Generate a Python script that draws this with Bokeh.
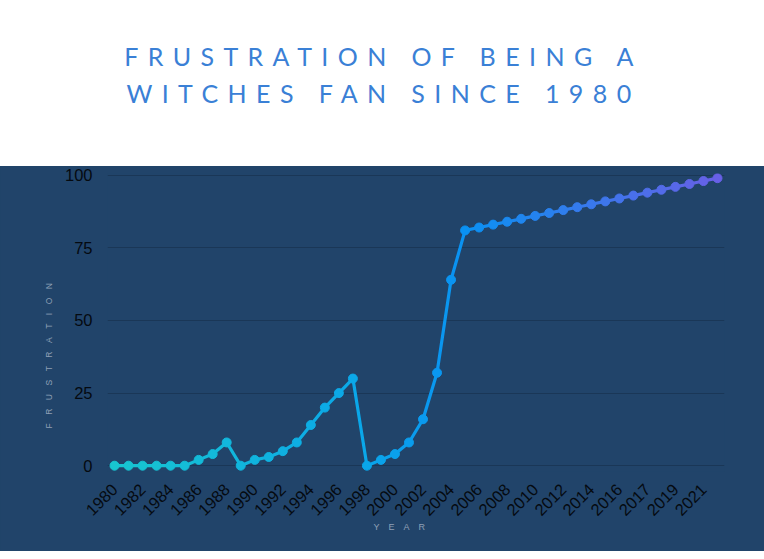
import math
from bokeh.plotting import figure
from bokeh.models import (ColumnDataSource, Range1d, FixedTicker, Div, Title)
from bokeh.layouts import column
from bokeh.embed import file_html
from bokeh.resources import INLINE

# ---- data ----
year_labels = [str(y) for y in range(1980, 2017)] + ["2016", "2017", "2018", "2019", "2020", "2021", "2022"]
frustration = [0, 0, 0, 0, 0, 0, 2, 4, 8, 0,
               2, 3, 5, 8, 14, 20, 25, 30, 0, 2,
               4, 8, 16, 32, 64, 81, 82, 83, 84, 85,
               86, 87, 88, 89, 90, 91, 92, 93, 94, 95,
               96, 97, 98, 99]
y_ticks = [0, 25, 50, 75, 100]
title_lines = ["FRUSTRATION OF BEING A", "WITCHES FAN SINCE 1980"]
x_title = "\u2003".join("YEAR")
y_title = "\u2003".join("FRUSTRATION")

# ---- styling helpers ----
BG = "#21446a"
GRID = "#1a3757"
stops = [(0, (24, 197, 208)), (18, (10, 166, 234)), (25, (10, 145, 242)), (43, (104, 96, 230))]

def grad(t):
    for (a, ca), (b, cb) in zip(stops[:-1], stops[1:]):
        if t <= b:
            f = (t - a) / (b - a) if b > a else 0
            c = tuple(int(round(ca[i] + (cb[i] - ca[i]) * f)) for i in range(3))
            return "#%02x%02x%02x" % c
    return "#%02x%02x%02x" % stops[-1][1]

n = len(frustration)
xs = list(range(n))
pt_colors = [grad(i) for i in xs]
seg = ColumnDataSource(dict(
    x0=xs[:-1], y0=frustration[:-1], x1=xs[1:], y1=frustration[1:],
    c=[grad(i + 0.5) for i in xs[:-1]]))
pts = ColumnDataSource(dict(x=xs, y=frustration, c=pt_colors))

# ---- header ----
header = Div(
    text=("<div style=\"box-sizing:border-box; font-family:'Lato'; font-weight:400; font-size:25px; "
          "letter-spacing:9.4px; padding-left:9px; color:#3a80d6; line-height:37px; "
          "text-align:center; padding-top:33px; width:748px;\">"
          + title_lines[0] + "<br>" + title_lines[1] + "</div>"),
    width=748, height=156,
    styles={"background-color": "white", "overflow": "hidden"})

# ---- chart ----
p = figure(width=764, height=385, output_backend="svg", toolbar_location=None,
           x_range=Range1d(-0.5, n - 0.5), y_range=Range1d(-2, 100.6),
           min_border_left=107, min_border_right=40, min_border_top=7, min_border_bottom=80,
           styles={"background-color": BG})
p.background_fill_color = BG
p.border_fill_color = BG
p.outline_line_color = None

p.segment("x0", "y0", "x1", "y1", source=seg, line_color="c", line_width=3.2, line_cap="round")
p.scatter("x", "y", source=pts, size=9, fill_color="c", line_color="c")

p.xgrid.grid_line_color = None
p.ygrid.grid_line_color = GRID
p.ygrid.grid_line_width = 1.2
p.ygrid.ticker = FixedTicker(ticks=y_ticks)

p.yaxis.ticker = FixedTicker(ticks=y_ticks)
p.xaxis.ticker = FixedTicker(ticks=list(range(0, n, 2)))
p.xaxis.major_label_overrides = {i: year_labels[i] for i in range(0, n, 2)}
p.xaxis.major_label_orientation = math.pi / 4

for ax in (p.xaxis, p.yaxis):
    ax.axis_line_color = None
    ax.major_tick_line_color = None
    ax.minor_tick_line_color = None
    ax.major_tick_out = 0
    ax.major_tick_in = 0
    ax.minor_tick_out = 0
    ax.minor_tick_in = 0
    ax.major_label_text_font = "Liberation Sans"
    ax.major_label_text_font_size = "16.5px"
    ax.major_label_text_color = "#050a10"
p.yaxis.major_label_standoff = 15
p.xaxis.major_label_standoff = 15

p.add_layout(Title(text=x_title, align="left", offset=266, standoff=-7,
                   text_font="Liberation Sans", text_font_size="9px", text_font_style="normal",
                   text_color="#8fa0b6"), "below")
p.add_layout(Title(text=y_title, align="left", offset=43, standoff=16,
                   text_font="Liberation Sans", text_font_size="8.5px", text_font_style="normal",
                   text_color="#8fa0b6"), "left")

layout = column(header, p, spacing=0)
open("out.html", "w").write(file_html(layout, INLINE))
